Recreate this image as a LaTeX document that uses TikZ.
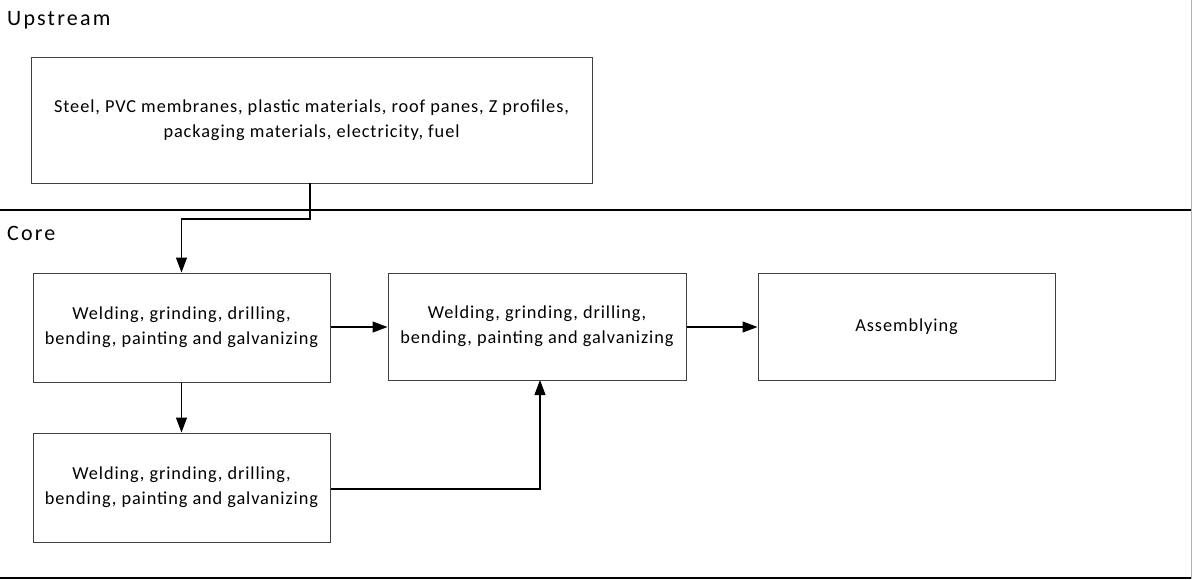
\documentclass[tikz,border=0pt]{standalone}
\usepackage{fontspec}
\setmainfont{Carlito}
\newfontfamily\lblfont[LetterSpace=10]{Carlito}
\newfontfamily\boxfont[LetterSpace=5]{Carlito}
\usetikzlibrary{arrows.meta}
\begin{document}
\begin{tikzpicture}[x=1pt,y=-1pt,
  procbox/.style={draw=black!75, line width=1pt, rectangle, inner sep=0pt, align=center,
    font=\boxfont\fontsize{18.3}{25}\selectfont},
  lanelabel/.style={anchor=west, inner sep=0pt, font=\lblfont\fontsize{22}{26}\selectfont},
  flow/.style={draw=black, line width=1.2pt, -{Triangle[length=15pt,width=11pt]}},
  lane/.style={draw=black, line width=1.5pt}]
\useasboundingbox (0,0) rectangle (1192,579);
\fill[white] (0,0) rectangle (1192,579);
% lanes
\draw[lane] (0,210) -- (1192,210);
\draw[lane] (0,578) -- (1192,578);
\draw[black!30, line width=1pt] (1191.5,0) -- (1191.5,579);
\node[lanelabel] (up) at (7,20) {Upstream};
\node[lanelabel] (core) at (7,233) {Core};
% boxes
\node[procbox, minimum width=561pt, minimum height=126pt] (src) at (311.5,120)
  {Steel, PVC membranes, plastic materials, roof panes, Z profiles,\\packaging materials, electricity, fuel};
\node[procbox, minimum width=297pt, minimum height=109pt] (a) at (181.5,327.5)
  {Welding, grinding, drilling,\\bending, painting and galvanizing};
\node[procbox, minimum width=298pt, minimum height=107pt] (b) at (537,326.5)
  {Welding, grinding, drilling,\\bending, painting and galvanizing};
\node[procbox, minimum width=297pt, minimum height=107pt] (c) at (906.5,326.5)
  {Assemblying};
\node[procbox, minimum width=297pt, minimum height=109pt] (d) at (181.5,487.5)
  {Welding, grinding, drilling,\\bending, painting and galvanizing};
% connectors
\coordinate (s1) at (310,183);
\draw[flow] (s1) |- (181.5,219) -- (a.north);
\draw[flow] (a.east |- 0,327) -- (b.west |- 0,327);
\draw[flow] (b.east |- 0,327) -- (c.west |- 0,327);
\draw[flow] (a.south) -- (d.north);
\coordinate (bj) at (540,380);
\draw[flow] (d.east |- 0,489) -| (bj);
\end{tikzpicture}
\end{document}
